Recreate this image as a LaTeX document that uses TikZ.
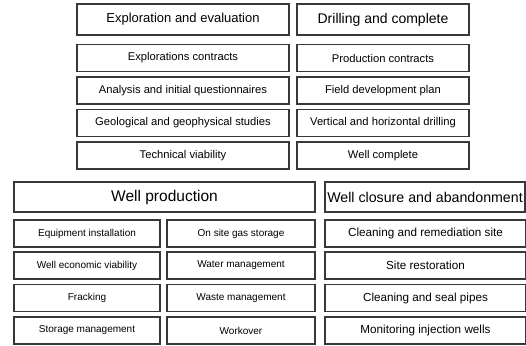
\documentclass[tikz,border=0pt]{standalone}
\usepackage{fontspec}
\setmainfont{Liberation Sans}
\begin{document}
\begin{tikzpicture}[x=1pt,y=-1pt,
  box/.style={draw=black!78,line width=1.3pt,inner sep=0pt,anchor=center,fill=white,align=center},
  hdr/.style={box,minimum height=30pt},
  sub/.style={box,minimum height=27pt},
  fa/.style={font=\fontsize{13}{15}\selectfont},
  fb/.style={font=\fontsize{14}{16}\selectfont},
  fc/.style={font=\fontsize{15.5}{17}\selectfont},
  fd/.style={font=\fontsize{14.2}{16}\selectfont},
  ft/.style={font=\fontsize{11.2}{13}\selectfont},
  fs/.style={font=\fontsize{10}{12}\selectfont},
  fr/.style={font=\fontsize{11.7}{13}\selectfont}]
\useasboundingbox[fill=white] (0,0) rectangle (526,345);
% top section
\node[hdr,fa,minimum width=212pt,minimum height=31pt] (h1) at (183,19.5) {Exploration and evaluation};
\node[hdr,fb,minimum width=172pt,minimum height=31pt] (h2) at (383,19.5) {Drilling and complete};
\node[sub,ft,minimum width=212pt] (a1) at (183,58) {Explorations contracts};
\node[sub,ft,minimum width=212pt] (a2) at (183,90.5) {Analysis and initial questionnaires};
\node[sub,ft,minimum width=212pt] (a3) at (183,123) {Geological and geophysical studies};
\node[sub,ft,minimum width=212pt] (a4) at (183,155.5) {Technical viability};
\node[sub,ft,minimum width=172pt] (b1) at (383,58) {Production contracts};
\node[sub,ft,minimum width=172pt] (b2) at (383,90.5) {Field development plan};
\node[sub,ft,minimum width=172pt] (b3) at (383,123) {Vertical and horizontal drilling};
\node[sub,ft,minimum width=172pt] (b4) at (383,155.5) {Well complete};
% bottom section
\node[hdr,fc,minimum width=301pt] (h3) at (164.5,197) {Well production};
\node[hdr,fd,minimum width=200pt] (h4) at (425,197) {Well closure and abandonment};
\node[sub,fs,minimum width=146pt] (c1) at (87,233.5) {Equipment installation};
\node[sub,fs,minimum width=146pt] (c2) at (87,265.5) {Well economic viability};
\node[sub,fs,minimum width=146pt] (c3) at (87,298) {Fracking};
\node[sub,fs,minimum width=146pt] (c4) at (87,330.5) {Storage management};
\node[sub,fs,minimum width=148pt] (d1) at (241,233.5) {On site gas storage};
\node[sub,fs,minimum width=148pt] (d2) at (241,265.5) {Water management};
\node[sub,fs,minimum width=148pt] (d3) at (241,298) {Waste management};
\node[sub,fs,minimum width=148pt] (d4) at (241,330.5) {Workover};
\node[sub,fr,minimum width=201pt] (e1) at (425.5,233.5) {Cleaning and remediation site};
\node[sub,fr,minimum width=201pt] (e2) at (425.5,265.5) {Site restoration};
\node[sub,fr,minimum width=201pt] (e3) at (425.5,298) {Cleaning and seal pipes};
\node[sub,fr,minimum width=201pt] (e4) at (425.5,330.5) {Monitoring injection wells};
\end{tikzpicture}
\end{document}
